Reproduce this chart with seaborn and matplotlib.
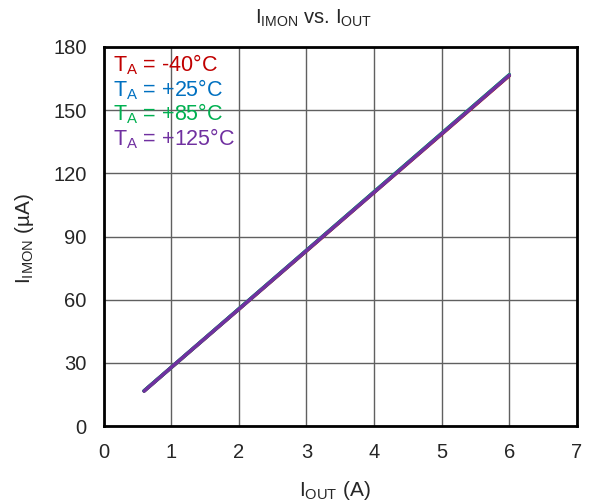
import matplotlib
matplotlib.use("Agg")
import matplotlib.pyplot as plt
import seaborn as sns
import pandas as pd

sns.set_style("white")
plt.rcParams['font.family'] = ['Liberation Sans', 'DejaVu Sans']
plt.rcParams['mathtext.default'] = 'regular'

iout = [0.6, 1.0, 2.0, 3.0, 4.0, 5.0, 6.0]
i_m40 = [16.6, 27.7, 55.4, 83.1, 110.9, 138.6, 166.4]
i_p25 = [16.7, 27.8, 55.6, 83.4, 111.2, 139.0, 166.8]
i_p85 = [16.7, 27.8, 55.6, 83.4, 111.2, 139.0, 166.8]
i_p125 = [16.6, 27.8, 55.5, 83.3, 111.0, 138.8, 166.6]

labels = [r"T$_A$ = -40°C", r"T$_A$ = +25°C", r"T$_A$ = +85°C", r"T$_A$ = +125°C"]
colors = ["#C00000", "#0070C0", "#00B050", "#7030A0"]

rows = []
for lab, vals in zip(labels, [i_m40, i_p25, i_p85, i_p125]):
    for x, y in zip(iout, vals):
        rows.append({"Iout": x, "Imon": y, "Temp": lab})
df = pd.DataFrame(rows)

W, H = 589, 504
fig = plt.figure(figsize=(W / 100, H / 100), dpi=100)
l, r, t, b = 103.5, 577, 47, 426
ax = fig.add_axes([l / W, (H - b) / H, (r - l) / W, (b - t) / H])

sns.lineplot(data=df, x="Iout", y="Imon", hue="Temp", hue_order=labels,
             palette=colors, linewidth=2.5, ax=ax, legend=True,
             solid_capstyle='round')

ax.set_xlim(0, 7)
ax.set_ylim(0, 180)
ax.set_xticks(range(0, 8))
ax.set_yticks(range(0, 181, 30))
ax.grid(True, color="#606060", linewidth=1)
ax.set_axisbelow(True)
for s in ax.spines.values():
    s.set_color("black")
    s.set_linewidth(2)
ax.tick_params(axis='both', labelsize=14.5, length=0, pad=12)

ax.set_xlabel(r"I$_{OUT}$ (A)", fontsize=15, va='center', ha='center')
ax.xaxis.set_label_coords((335 - l) / (r - l), (b - 490) / (b - t))
ax.set_ylabel(r"I$_{IMON}$ (µA)", fontsize=15, va='center', ha='center')
ax.yaxis.set_label_coords((25 - l) / (r - l), (b - 238) / (b - t))
fig.text(314 / W, 1 - 18 / H, r"I$_{IMON}$ vs. I$_{OUT}$", fontsize=14.5,
         ha='center', va='center')

leg = ax.legend(loc="upper left", bbox_to_anchor=(0.008, 1.0), frameon=False,
                handlelength=0, handletextpad=0,
                labelcolor="linecolor", fontsize=15.5, borderaxespad=0.05,
                borderpad=0.2, labelspacing=0.0)
for h in leg.legend_handles:
    h.set_visible(False)

fig.savefig("out.png", dpi=100)
